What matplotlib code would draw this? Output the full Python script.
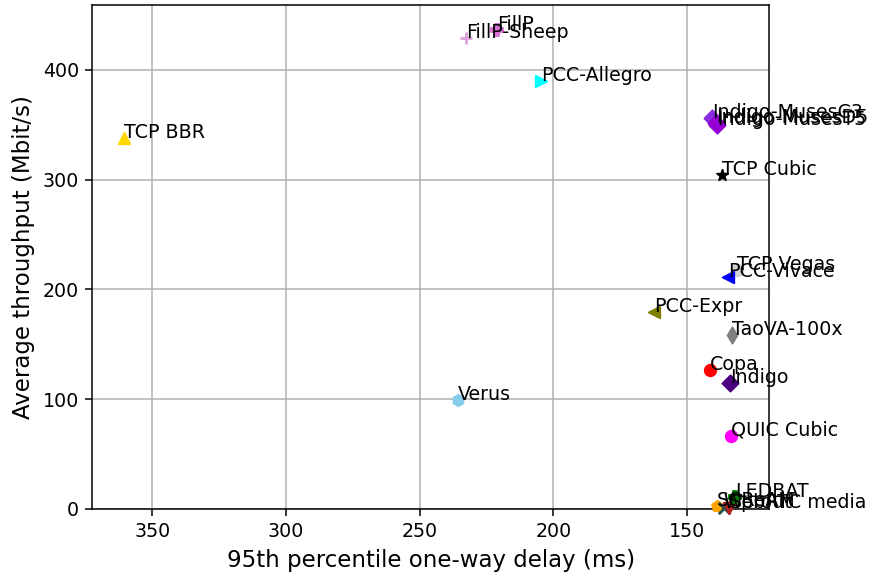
#!/usr/bin/env python3
"""Throughput vs. 95th percentile delay, mean of each scheme (pantheon-style)."""

import matplotlib
matplotlib.use("Agg")
import matplotlib.pyplot as plt

# mean values per scheme
schemes = [
    "TCP BBR", "FillP", "FillP-Sheep", "PCC-Allegro",
    "Indigo-MusesC3", "Indigo-MusesD5", "Indigo-MusesT5",
    "TCP Cubic", "TCP Vegas", "PCC-Vivace", "PCC-Expr", "TaoVA-100x",
    "Copa", "Indigo", "Verus", "QUIC Cubic",
    "SCReAM", "WebRTC media", "Sprout", "LEDBAT",
]
delay_ms = [
    360.5, 221.0, 232.6, 204.5,
    140.6, 139.2, 138.7,
    136.8, 131.2, 134.6, 162.3, 133.1,
    141.3, 133.8, 235.6, 133.5,
    138.7, 136.0, 134.2, 132.0,
]
tput_mbps = [
    338.0, 436.0, 429.0, 390.0,
    356.0, 352.0, 350.0,
    304.0, 218.0, 211.0, 179.5, 158.5,
    126.7, 114.8, 99.3, 66.5,
    2.7, 1.0, 0.5, 10.9,
]

# colour / marker per scheme
STYLE = {
    "TCP BBR":        ("gold", "^"),
    "FillP":          ("orchid", "P"),
    "FillP-Sheep":    ("plum", "+"),
    "PCC-Allegro":    ("cyan", ">"),
    "Indigo-MusesC3": ("blueviolet", "D"),
    "Indigo-MusesD5": ("darkviolet", "D"),
    "Indigo-MusesT5": ("darkviolet", "D"),
    "TCP Cubic":      ("black", "*"),
    "TCP Vegas":      ("lightgray", "o"),
    "PCC-Vivace":     ("blue", "<"),
    "PCC-Expr":       ("olive", "<"),
    "TaoVA-100x":     ("grey", "d"),
    "Copa":           ("red", "o"),
    "Indigo":         ("indigo", "D"),
    "Verus":          ("skyblue", "h"),
    "QUIC Cubic":     ("magenta", "o"),
    "SCReAM":         ("orange", "p"),
    "WebRTC media":   ("darkslategrey", "x"),
    "Sprout":         ("firebrick", "v"),
    "LEDBAT":         ("green", "P"),
}

DPI = 137
fig, ax = plt.subplots(figsize=(879 / DPI, 577 / DPI), dpi=DPI)
fig.subplots_adjust(left=0.105, right=0.875, top=0.991, bottom=0.118)

for name, x, y in zip(schemes, delay_ms, tput_mbps):
    color, marker = STYLE[name]
    ax.scatter(x, y, color=color, marker=marker, clip_on=False, zorder=3)
    ax.annotate(name, (x, y), zorder=4, annotation_clip=False)

ax.set_xlim(372.4, 119.3)
ax.set_ylim(0, 459)
ax.set_xlabel("95th percentile one-way delay (ms)", fontsize=12)
ax.set_ylabel("Average throughput (Mbit/s)", fontsize=12)
ax.grid()
ax.set_axisbelow(True)

fig.savefig("out.png", dpi=DPI)
plt.close(fig)
